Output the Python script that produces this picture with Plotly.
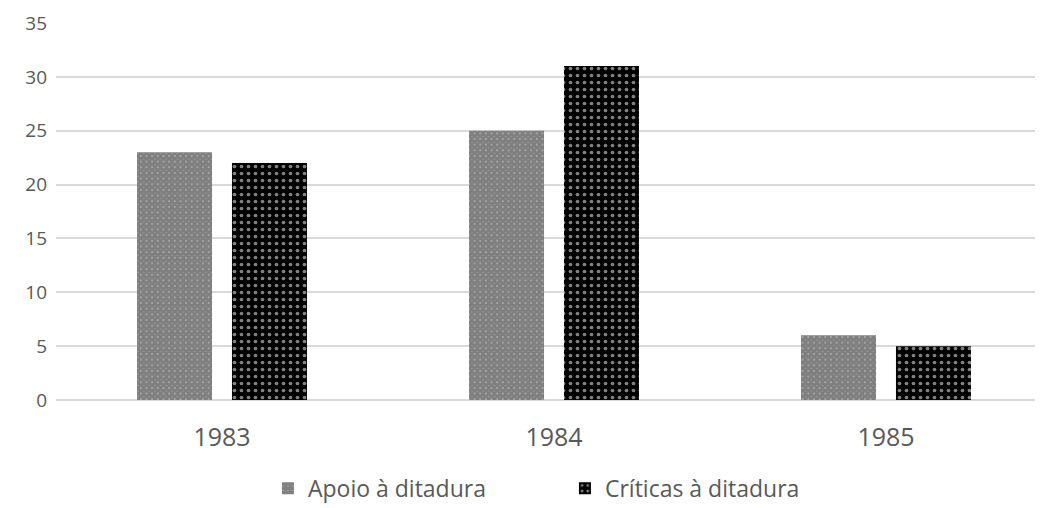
import plotly.graph_objects as go

years = ["1983", "1984", "1985"]
apoio = [23, 25, 6]
criticas = [22, 31, 5]
series_names = ["Apoio à ditadura", "Críticas à ditadura"]

grey = "#595959"

fig = go.Figure()
fig.add_trace(go.Bar(
    x=years, y=apoio, name=series_names[0],
    marker=dict(color="white", line=dict(width=0),
                pattern=dict(shape="x", fgcolor="black", bgcolor="white", size=4, solidity=0.95)),
))
fig.add_trace(go.Bar(
    x=years, y=criticas, name=series_names[1],
    marker=dict(color="black", line=dict(width=0),
                pattern=dict(shape=".", fgcolor="white", bgcolor="black", size=7, solidity=0.22)),
))

# the page body adds 8px around the figure, margins are set with that in mind
fig.update_layout(
    width=1043, height=508,
    margin=dict(l=48, r=0, t=15, b=116),
    paper_bgcolor="white", plot_bgcolor="white",
    font=dict(family="Open Sans, Noto Sans, sans-serif", color=grey),
    barmode="group", bargap=0.428, bargroupgap=0.21,
    showlegend=True,
    legend=dict(orientation="h", x=0.213, xanchor="left", y=-0.234, yanchor="middle",
                font=dict(size=23, color=grey), itemwidth=30, entrywidth=252,
                traceorder="normal"),
    xaxis=dict(type="category", range=[-0.5, 2.497], showgrid=False, showline=False,
               automargin=False, ticks="", tickfont=dict(size=25, color=grey),
               ticklabelstandoff=20),
    yaxis=dict(range=[0, 35], dtick=5, showgrid=True, gridcolor="#d9d9d9", gridwidth=1.5,
               zeroline=True, zerolinecolor="#d9d9d9", zerolinewidth=1.5,
               showline=False, automargin=False, ticks="", tickfont=dict(size=19, color=grey),
               ticklabelstandoff=8),
)

fig.write_html("out.html")
